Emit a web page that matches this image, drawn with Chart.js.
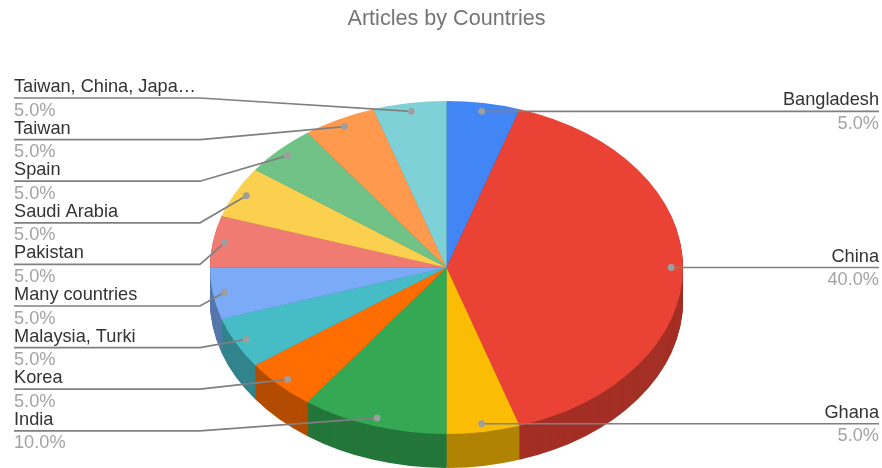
<!DOCTYPE html>
<html>
<head>
<meta charset="utf-8">
<title>Articles by Countries</title>
<style>
    html, body { margin: 0; padding: 0; background: #fff; }
    canvas { display: block; }
</style>
<script src="https://cdn.jsdelivr.net/npm/chart.js@4"></script>
</head>
<body>
<canvas id="pieChart" width="882" height="468"></canvas>
<script>
const countries = ['Bangladesh', 'China', 'Ghana', 'India', 'Korea', 'Malaysia, Turki',
    'Many countries', 'Pakistan', 'Saudi Arabia', 'Spain', 'Taiwan', 'Taiwan, China, Japa…'];
const articleShares = [5, 40, 5, 10, 5, 5, 5, 5, 5, 5, 5, 5];
const sliceColors = ['#4285F4', '#EA4335', '#FBBC04', '#34A853', '#FF6D01', '#46BDC6',
    '#7BAAF7', '#F07B72', '#FCD04F', '#71C287', '#FF994D', '#7ED1D7'];

const TILT = 0.704;       // vertical squash of the pie
const DEPTH = 34;         // height of the rim in pixels
const FONT = '"Liberation Sans", Arial, sans-serif';

// Rim colour is the slice colour at 70%
function shade(hex) {
    const n = parseInt(hex.slice(1), 16);
    const ch = shift => Math.round(((n >> shift) & 255) * 0.7);
    return `rgb(${ch(16)},${ch(8)},${ch(0)})`;
}

const tiltedPie = {
    id: 'tiltedPie',
    beforeDatasetDraw(chart, args) {
        const ctx = chart.ctx;
        const arcs = args.meta.data;
        const cy = arcs[0].y;

        // Stack darkened copies from the bottom up, then the top face
        for (let k = DEPTH; k >= 0; k--) {
            ctx.save();
            ctx.translate(0, cy + k);
            ctx.scale(1, TILT);
            ctx.translate(0, -cy);
            arcs.forEach((arc, i) => {
                const base = arc.options;
                arc.options = Object.create(base);
                arc.options.backgroundColor = k === 0 ? sliceColors[i] : shade(sliceColors[i]);
                arc.draw(ctx);
                arc.options = base;
            });
            ctx.restore();
        }
        return false;
    },
    afterDatasetsDraw(chart) {
        const ctx = chart.ctx;
        const arcs = chart.getDatasetMeta(0).data;
        const total = articleShares.reduce((a, b) => a + b, 0);

        const anchors = arcs.map((arc, i) => {
            const mid = (arc.startAngle + arc.endAngle) / 2;
            return {
                i,
                x: arc.x + Math.cos(mid) * arc.outerRadius * 0.95,
                y: arc.y + Math.sin(mid) * arc.outerRadius * 0.95 * TILT
            };
        });

        const drawLabel = (i, x, lineY, align) => {
            ctx.textAlign = align;
            ctx.textBaseline = 'alphabetic';
            ctx.font = `18.2px ${FONT}`;
            ctx.fillStyle = '#333333';
            ctx.fillText(countries[i], x, lineY - 6);
            ctx.fillStyle = '#a3a3a3';
            ctx.fillText((articleShares[i] / total * 100).toFixed(1) + '%', x, lineY + 17.5);
        };

        const drawLeader = points => {
            ctx.beginPath();
            points.forEach((p, n) => n ? ctx.lineTo(p[0], p[1]) : ctx.moveTo(p[0], p[1]));
            ctx.strokeStyle = '#808080';
            ctx.lineWidth = 1.7;
            ctx.stroke();
            ctx.beginPath();
            ctx.arc(points[0][0], points[0][1], 3.4, 0, Math.PI * 2);
            ctx.fillStyle = '#9e9e9e';
            ctx.fill();
        };

        // Right column sits level with its anchor
        anchors.filter(a => a.x > arcs[0].x).forEach(a => {
            drawLeader([[a.x, a.y], [879, a.y]]);
            drawLabel(a.i, 879, a.y, 'right');
        });

        // Left column is evenly spaced, top row is the last category
        anchors.filter(a => a.x <= arcs[0].x).reverse().forEach((a, row) => {
            const lineY = 98 + row * 41.6;
            drawLeader([[a.x, a.y], [200, lineY], [14, lineY]]);
            drawLabel(a.i, 14, lineY, 'left');
        });
    }
};

new Chart(document.getElementById('pieChart').getContext('2d'), {
    type: 'pie',
    plugins: [tiltedPie],
    data: {
        labels: countries,
        datasets: [{
            data: articleShares,
            backgroundColor: sliceColors,
            borderWidth: 0,
            radius: 236.5
        }]
    },
    options: {
        responsive: false,
        animation: false,
        layout: { padding: { left: 11 } },
        plugins: {
            legend: { display: false },
            tooltip: { enabled: false },
            title: {
                display: true,
                text: 'Articles by Countries',
                color: '#757575',
                font: { family: FONT, size: 21.6, weight: 'normal' },
                padding: { top: 6, bottom: 35.1 }
            }
        }
    }
});
</script>
</body>
</html>
